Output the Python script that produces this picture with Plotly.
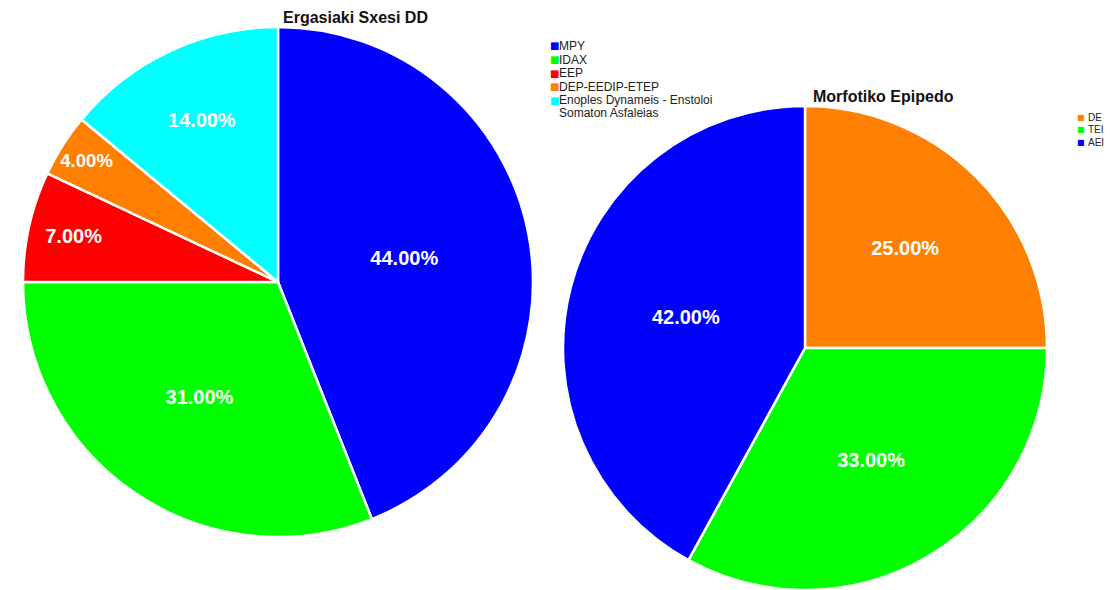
import plotly.graph_objects as go

W, H = 1110, 590

left_title = "Ergasiaki Sxesi DD"
left_labels = ["MPY", "IDAX", "EEP", "DEP-EEDIP-ETEP", "Enoples Dynameis - Enstoloi<br>Somaton Asfaleias"]
left_values = [44, 31, 7, 4, 14]
left_colors = ["#0000FF", "#00FF00", "#FF0000", "#FF8000", "#00FFFF"]

right_title = "Morfotiko Epipedo"
right_labels = ["DE", "TEI", "AEI"]
right_values = [25, 33, 42]
right_colors = ["#FF8000", "#00FF00", "#0000FF"]


def dom(cx, cy, r):
    return dict(x=[(cx - r) / W, (cx + r) / W],
                y=[max(0, 1 - (cy + r) / H), min(1, 1 - (cy - r) / H)])


fig = go.Figure()
for labels, values, colors, d in [
    (left_labels, left_values, left_colors, dom(278, 282, 255)),
    (right_labels, right_values, right_colors, dom(805, 348, 242)),
]:
    fig.add_trace(go.Pie(
        labels=labels, values=values, sort=False, direction="clockwise",
        marker=dict(colors=colors, line=dict(color="white", width=2.5)),
        texttemplate="%{percent:.2%}", textposition="inside",
        insidetextorientation="horizontal",
        textfont=dict(family="Arial", size=20, color="white", weight="bold"),
        domain=d, showlegend=False, hoverinfo="label+percent",
    ))

# compact legends built from the label/colour arrays
annotations = []


def add_legend(labels, colors, x_marker, x_text, y0, step, line_step, fsize, msize):
    y = y0
    for lab, col in zip(labels, colors):
        annotations.append(dict(
            text="■", x=x_marker / W, y=1 - y / H, xref="paper", yref="paper",
            xanchor="left", yanchor="middle", showarrow=False, borderpad=0,
            font=dict(size=msize, color=col, family="DejaVu Sans"),
        ))
        for i, part in enumerate(lab.split("<br>")):
            annotations.append(dict(
                text=part, x=x_text / W, y=1 - (y + i * line_step) / H,
                xref="paper", yref="paper", xanchor="left", yanchor="middle",
                align="left", showarrow=False, borderpad=0,
                font=dict(size=fsize, color="#222", family="Arial"),
            ))
        y += step


add_legend(left_labels, left_colors, 549, 558, 46, 13.6, 13, 12, 10)
add_legend(right_labels, right_colors, 1076, 1087, 118, 12, 11, 10, 8)

annotations += [
    dict(text=f"<b>{left_title}</b>", x=281 / W, y=1 - 18 / H,
         xref="paper", yref="paper", xanchor="left", yanchor="middle",
         showarrow=False, font=dict(size=16, color="#111", family="Arial")),
    dict(text=f"<b>{right_title}</b>", x=811 / W, y=1 - 97 / H,
         xref="paper", yref="paper", xanchor="left", yanchor="middle",
         showarrow=False, font=dict(size=16, color="#111", family="Arial")),
]

fig.update_layout(
    width=W, height=H,
    margin=dict(l=0, r=0, t=0, b=0, autoexpand=False),
    paper_bgcolor="white", plot_bgcolor="white",
    font=dict(family="Arial", color="#222"),
    annotations=annotations,
)

fig.write_html("out.html")
